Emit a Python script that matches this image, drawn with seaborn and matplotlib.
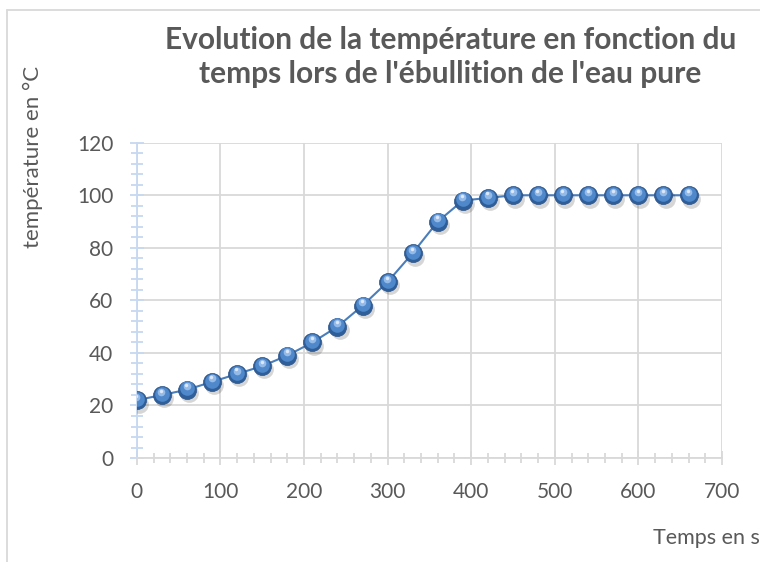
import numpy as np
import pandas as pd
import matplotlib
matplotlib.use("Agg")
import matplotlib.pyplot as plt
from matplotlib.ticker import MultipleLocator
from matplotlib.lines import Line2D
import seaborn as sns

# Data
temps_s = [0, 30, 60, 90, 120, 150, 180, 210, 240, 270, 300, 330,
           360, 390, 420, 450, 480, 510, 540, 570, 600, 630, 660]
temperature_c = [22, 24, 26, 29, 32, 35, 39, 44, 50, 58, 67, 78,
                 90, 98, 99, 100, 100, 100, 100, 100, 100, 100, 100]

df = pd.DataFrame({"temps": temps_s, "temperature": temperature_c})

sns.set_style("white")
plt.rcParams['font.family'] = ['Lato', 'DejaVu Sans']

text_col = "#595959"
grid_col = "#d9d9d9"
blue = "#4a7ebb"

fig = plt.figure(figsize=(7.6, 5.62), dpi=100)
ax = fig.add_axes([0.180, 0.185, 0.770, 0.561])

# line + sphere-like markers
sns.lineplot(data=df, x="temps", y="temperature", ax=ax, color=blue,
             linewidth=1.5, zorder=3)
# shadow
ax.plot(df["temps"] + 2.5, df["temperature"] - 1.3, 'o', ms=13.5,
        color="#000000", alpha=0.16, mec="none", zorder=4)
ax.plot(df["temps"], df["temperature"], 'o', ms=13, color="#2f5f9a",
        mec="#2a5288", mew=0.5, zorder=5)
ax.plot(df["temps"], df["temperature"] + 0.5, 'o', ms=10.5, color="#5089cb",
        mec="none", zorder=6)
ax.plot(df["temps"] - 0.5, df["temperature"] + 1.3, 'o', ms=5.5, color="#94bae8",
        mec="none", zorder=7)
ax.plot(df["temps"] - 0.8, df["temperature"] + 1.7, 'o', ms=2.5, color="#dbe8f8",
        mec="none", zorder=8)

ax.set_xlim(0, 700)
ax.set_ylim(0, 120)
ax.xaxis.set_major_locator(MultipleLocator(100))
ax.xaxis.set_minor_locator(MultipleLocator(20))
ax.yaxis.set_major_locator(MultipleLocator(20))
ax.yaxis.set_minor_locator(MultipleLocator(4))

ax.grid(True, which="major", color=grid_col, linewidth=1.3)
for s in ["top", "right"]:
    ax.spines[s].set_visible(False)
ax.spines["bottom"].set_color(grid_col)
ax.spines["bottom"].set_linewidth(1.3)
ax.spines["left"].set_color("#c6d9f1")
ax.spines["left"].set_linewidth(1.3)

ax.tick_params(axis="x", which="both", bottom=True, direction="inout", colors=grid_col,
               labelcolor=text_col, labelsize=15, width=1.3, pad=12)
ax.tick_params(axis="x", which="major", length=10)
ax.tick_params(axis="x", which="minor", length=7)
ax.tick_params(axis="y", which="both", left=True, direction="inout", colors="#c6d9f1",
               labelcolor=text_col, labelsize=15, width=1.3, pad=12)
ax.tick_params(axis="y", which="major", length=10)
ax.tick_params(axis="y", which="minor", length=8)
ax.set_xlabel("")
ax.set_ylabel("")

fig.text(0.593, 0.898, "Evolution de la température en fonction du\ntemps lors de l'ébullition de l'eau pure",
         ha="center", va="center", fontsize=21.5, fontweight="bold", color=text_col,
         linespacing=1.25)
fig.text(0.043, 0.72, "température en °C", rotation=90, ha="center", va="center",
         fontsize=16, color=text_col)
fig.text(0.859, 0.043, "Temps en s", ha="left", va="center",
         fontsize=15.5, color=text_col)

# chart frame (left and top edges visible)
fig.add_artist(Line2D([0.0095, 0.0095], [0.0, 0.982], transform=fig.transFigure,
                      color="#d9d9d9", linewidth=1.3))
fig.add_artist(Line2D([0.0095, 1.0], [0.982, 0.982], transform=fig.transFigure,
                      color="#d9d9d9", linewidth=1.3))

fig.savefig("out.png", dpi=100)
